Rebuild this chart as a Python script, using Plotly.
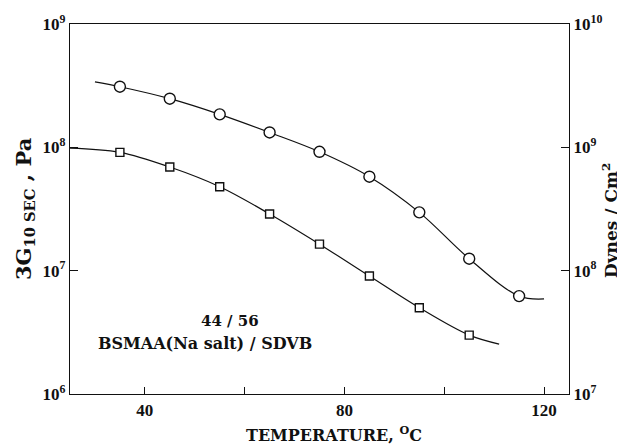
import plotly.graph_objects as go

# measured points (temperature, modulus in Pa)
temp = [35, 45, 55, 65, 75, 85, 95, 105, 115]
circle_vals = [3.10e8, 2.48e8, 1.85e8, 1.32e8, 9.2e7, 5.78e7, 2.97e7, 1.25e7, 6.22e6]
square_temp = [35, 45, 55, 65, 75, 85, 95, 105]
square_vals = [9.11e7, 6.92e7, 4.79e7, 2.88e7, 1.64e7, 9.04e6, 5.0e6, 3.0e6]

# fitted curve ends
circle_curve_t = [30] + temp + [120]
circle_curve_v = [3.39e8] + circle_vals + [5.9e6]
square_curve_t = [25] + square_temp + [111]
square_curve_v = [9.87e7] + square_vals + [2.54e6]

x_ticks = [40, 60, 80, 100, 120]
x_ticktext = ["40", "", "80", "", "120"]
left_ticks = [1e6, 1e7, 1e8, 1e9]
left_text = ["10<sup>6</sup>", "10<sup>7</sup>", "10<sup>8</sup>", "10<sup>9</sup>"]
right_ticks = [1e7, 1e8, 1e9, 1e10]
right_text = ["10<sup>7</sup>", "10<sup>8</sup>", "10<sup>9</sup>", "10<sup>10</sup>"]

FONT = "Liberation Serif"
TFONT = "DejaVu Serif"
BLK = "#111111"

fig = go.Figure()
fig.add_trace(go.Scatter(x=circle_curve_t, y=circle_curve_v, mode="lines",
                         line=dict(color=BLK, width=1.2, shape="spline", smoothing=1.0),
                         hoverinfo="skip", showlegend=False))
fig.add_trace(go.Scatter(x=square_curve_t, y=square_curve_v, mode="lines",
                         line=dict(color=BLK, width=1.2, shape="spline", smoothing=1.0),
                         hoverinfo="skip", showlegend=False))
fig.add_trace(go.Scatter(x=temp, y=circle_vals, mode="markers",
                         marker=dict(symbol="circle", size=11, color="white",
                                     line=dict(color=BLK, width=1.4)),
                         showlegend=False))
fig.add_trace(go.Scatter(x=square_temp, y=square_vals, mode="markers",
                         marker=dict(symbol="square", size=8, color="white",
                                     line=dict(color=BLK, width=1.4)),
                         showlegend=False))
# invisible trace for right axis
fig.add_trace(go.Scatter(x=[temp[0]], y=[circle_vals[0] * 10], yaxis="y2",
                         mode="markers", marker=dict(opacity=0), hoverinfo="skip",
                         showlegend=False))

tickfont = dict(family=FONT, size=17, color=BLK, weight="bold")

# page body has an 8px margin, so the figure is sized and offset to fit
fig.update_layout(
    width=617, height=438,
    margin=dict(l=62, r=56, t=16, b=52),
    paper_bgcolor="white", plot_bgcolor="white",
    xaxis=dict(range=[25, 125], tickvals=x_ticks, ticktext=x_ticktext,
               ticks="inside", ticklen=7, tickwidth=1.2, tickcolor=BLK,
               showline=True, linecolor=BLK, linewidth=1.4, mirror=True,
               showgrid=False, zeroline=False, tickfont=tickfont, automargin=False),
    yaxis=dict(type="log", range=[6, 9], tickvals=left_ticks, ticktext=left_text,
               ticks="inside", ticklen=8, tickwidth=1.2, tickcolor=BLK,
               showline=True, linecolor=BLK, linewidth=1.4,
               showgrid=False, zeroline=False, tickfont=tickfont, automargin=False),
    yaxis2=dict(type="log", range=[7, 10], tickvals=right_ticks, ticktext=right_text,
                overlaying="y", side="right",
                ticks="inside", ticklen=8, tickwidth=1.2, tickcolor=BLK,
                showline=True, linecolor=BLK, linewidth=1.4,
                showgrid=False, zeroline=False, tickfont=tickfont, automargin=False),
    annotations=[
        dict(text="<b>TEMPERATURE, <sup>O</sup>C</b>", x=0.53, y=-0.072,
             xref="paper", yref="paper", showarrow=False, yanchor="top",
             font=dict(family=TFONT, size=16, color=BLK)),
        dict(text="<b>3G<sub>10 SEC</sub> , Pa</b>", x=-0.092, y=0.5,
             xref="paper", yref="paper", showarrow=False, textangle=-90,
             xanchor="center", yanchor="middle",
             font=dict(family=TFONT, size=21, color=BLK)),
        dict(text="<b>Dynes / Cm<sup>2</sup></b>", x=1.082, y=0.47,
             xref="paper", yref="paper", showarrow=False, textangle=-90,
             xanchor="center", yanchor="middle",
             font=dict(family=TFONT, size=17, color=BLK)),
        dict(text="<b>44 / 56</b>", x=57, y=6.59, xref="x", yref="y",
             showarrow=False, font=dict(family=TFONT, size=15, color=BLK)),
        dict(text="<b>BSMAA(Na salt) / SDVB</b>", x=52, y=6.41, xref="x", yref="y",
             showarrow=False, font=dict(family=TFONT, size=16, color=BLK)),
    ],
)

fig.write_html("out.html")
